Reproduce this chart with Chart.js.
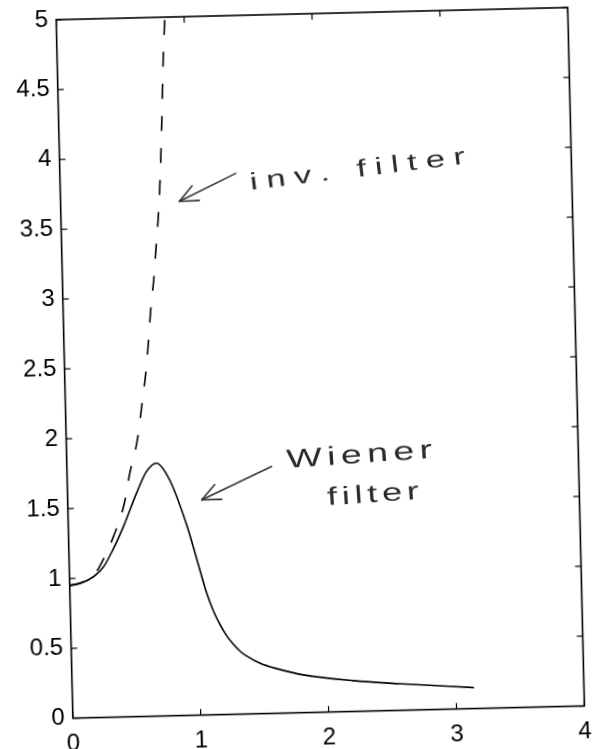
<!DOCTYPE html>
<html>
<head>
<meta charset="utf-8">
<script src="https://cdn.jsdelivr.net/npm/chart.js@4/dist/chart.umd.min.js"></script>
<style>
  html, body { margin: 0; padding: 0; background: #fff; overflow: hidden; }
  #wrap { width: 602px; height: 749px; position: relative; }
  #c { position: absolute; left: 0; top: 0; transform: rotate(-1.37deg); transform-origin: 50% 50%; }
</style>
</head>
<body>
<div id="wrap"><canvas id="c" width="602" height="749"></canvas></div>
<script>
// ---- data ----
const wienerX = [0, 0.085, 0.19, 0.27, 0.34, 0.43, 0.54, 0.62, 0.70, 0.80, 0.93, 1.02, 1.07, 1.12, 1.17, 1.22, 1.27, 1.32, 1.37, 1.475, 1.6, 1.81, 2.2, 2.56, 3.14];
const wienerY = [0.95, 0.963, 1.01, 1.08, 1.19, 1.36, 1.60, 1.75, 1.81, 1.69, 1.35, 1.04, 0.87, 0.74, 0.64, 0.56, 0.50, 0.45, 0.415, 0.36, 0.32, 0.27, 0.22, 0.19, 0.15];
const inverseX = [0, 0.1, 0.2, 0.25, 0.35, 0.44, 0.49, 0.556, 0.595, 0.632, 0.66, 0.684, 0.715, 0.739, 0.763, 0.781, 0.808, 0.831, 0.85];
const inverseY = [0.95, 0.97, 1.03, 1.10, 1.29, 1.52, 1.74, 1.98, 2.21, 2.44, 2.67, 2.90, 3.13, 3.36, 3.59, 3.82, 4.28, 4.73, 5.0];
const xTickValues = [0, 1, 2, 3, 4];
const yTickValues = [0, 0.5, 1, 1.5, 2, 2.5, 3, 3.5, 4, 4.5, 5];

// handwritten notes (anchored in data coordinates)
const noteTexts = ["inv. filter", "Wiener", "filter"];
const noteAnchors = [[1.49, 3.75], [1.72, 1.754], [2.03, 1.48]];
const arrowTails = [[1.375, 3.87], [1.60, 1.766]];
const arrowHeads = [[0.929, 3.68], [1.048, 1.54]];

const toPts = (xs, ys) => xs.map((v, i) => ({ x: v, y: ys[i] }));
const FONT = '"Liberation Sans", Arial, Helvetica, sans-serif';

const framePlugin = {
  id: 'frame',
  afterDatasetsDraw(chart) {
    const { ctx, chartArea: a, scales: { x, y } } = chart;
    ctx.save();
    ctx.strokeStyle = '#000';
    ctx.lineWidth = 1.6;
    ctx.strokeRect(a.left, a.top, a.right - a.left, a.bottom - a.top);
    ctx.lineWidth = 1.2;
    const L = 6;
    const seg = (x1, y1, x2, y2) => { ctx.beginPath(); ctx.moveTo(x1, y1); ctx.lineTo(x2, y2); ctx.stroke(); };
    xTickValues.forEach(v => {
      const p = x.getPixelForValue(v);
      seg(p, a.bottom, p, a.bottom - L);
      seg(p, a.top, p, a.top + L);
    });
    yTickValues.forEach(v => {
      const p = y.getPixelForValue(v);
      seg(a.left, p, a.left + L, p);
      seg(a.right, p, a.right - L, p);
    });

    // arrows
    ctx.strokeStyle = '#333';
    ctx.lineWidth = 1.6;
    ctx.lineCap = 'round';
    arrowTails.forEach((t, i) => {
      const h = arrowHeads[i];
      const tx = x.getPixelForValue(t[0]), ty = y.getPixelForValue(t[1]);
      const hx = x.getPixelForValue(h[0]), hy = y.getPixelForValue(h[1]);
      seg(tx, ty, hx, hy);
      const ang = Math.atan2(ty - hy, tx - hx);
      const len = 20, spread = 0.42;
      seg(hx, hy, hx + len * Math.cos(ang - spread), hy + len * Math.sin(ang - spread));
      seg(hx, hy, hx + len * Math.cos(ang + spread), hy + len * Math.sin(ang + spread));
    });

    // handwritten-style texts
    const widths = [214, 146, 92];
    const angles = [-5.6, -2.6, -2.6];
    const sizes = [24, 26, 25];
    ctx.fillStyle = '#2a2a2a';
    noteTexts.forEach((s, i) => {
      const px = x.getPixelForValue(noteAnchors[i][0]);
      const py = y.getPixelForValue(noteAnchors[i][1]);
      ctx.save();
      ctx.font = sizes[i] + 'px ' + FONT;
      ctx.textBaseline = 'alphabetic';
      ctx.translate(px, py);
      ctx.rotate(angles[i] * Math.PI / 180);
      const nat = ctx.measureText(s).width;
      const sx = Math.min(1.45, (widths[i] * 0.85) / nat);
      ctx.scale(sx, 1);
      const extra = (widths[i] / sx - nat) / (s.length - 1);
      let cx = 0;
      for (const ch of s) {
        ctx.fillText(ch, cx, 0);
        cx += ctx.measureText(ch).width + extra;
      }
      ctx.restore();
    });
    ctx.restore();
  }
};

const zeroPad = s => { s.paddingTop = 0; s.paddingBottom = 0; s.paddingLeft = 0; s.paddingRight = 0; };

new Chart(document.getElementById('c'), {
  type: 'scatter',
  data: {
    datasets: [
      {
        label: 'Wiener filter',
        data: toPts(wienerX, wienerY),
        showLine: true,
        borderColor: '#000',
        borderWidth: 1.6,
        pointRadius: 0,
        cubicInterpolationMode: 'monotone'
      },
      {
        label: 'inv. filter',
        data: toPts(inverseX, inverseY),
        showLine: true,
        borderColor: '#000',
        borderWidth: 1.6,
        borderDash: [15, 17],
        pointRadius: 0,
        cubicInterpolationMode: 'monotone'
      }
    ]
  },
  options: {
    responsive: false,
    animation: false,
    devicePixelRatio: 1,
    layout: { padding: { left: 0, top: 14, right: 25.6, bottom: 0 } },
    plugins: { legend: { display: false }, tooltip: { enabled: false } },
    scales: {
      x: {
        type: 'linear', min: 0, max: 4,
        afterBuildTicks: s => { s.ticks = xTickValues.map(v => ({ value: v })); },
        afterFit: s => { s.height = 36.4; zeroPad(s); },
        grid: { display: false, drawTicks: false },
        border: { display: false },
        ticks: { color: '#000', padding: 11, callback: v => String(v), font: { family: FONT, size: 24 } }
      },
      y: {
        type: 'linear', min: 0, max: 5,
        afterBuildTicks: s => { s.ticks = yTickValues.map(v => ({ value: v })); },
        afterFit: s => { s.width = 64.7; zeroPad(s); },
        grid: { display: false, drawTicks: false },
        border: { display: false },
        ticks: { color: '#000', padding: 8, callback: v => String(v), font: { family: FONT, size: 24 } }
      }
    }
  },
  plugins: [framePlugin]
});
</script>
</body>
</html>
